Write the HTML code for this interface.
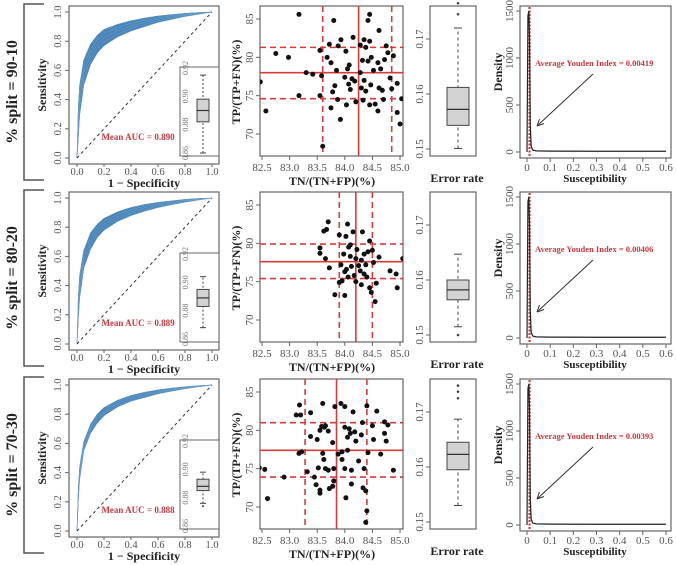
<!DOCTYPE html>
<html><head><meta charset="utf-8">
<style>
html,body{margin:0;padding:0;background:#fff;}
svg{display:block;font-family:"Liberation Serif",serif;}
</style></head>
<body>
<svg id="fig" width="676" height="565" viewBox="0 0 676 565" xmlns="http://www.w3.org/2000/svg"></svg>
<script>
// ---------- DATA ----------
const rowLabels = ["% split = 90-10", "% split = 80-20", "% split = 70-30"];
const meanAUC = ["0.890", "0.889", "0.888"];
const youden = ["0.00419", "0.00406", "0.00393"];
const rocFpr = [0,0.01,0.02,0.05,0.1,0.15,0.2,0.3,0.4,0.5,0.6,0.7,0.8,0.9,1];
const rocLow1 = [0,0.15,0.3,0.5,0.64,0.72,0.77,0.83,0.87,0.9,0.93,0.95,0.97,0.985,1];
const rocHigh1 = [0,0.35,0.5,0.67,0.78,0.84,0.88,0.915,0.94,0.958,0.972,0.982,0.99,0.996,1];
const rocLow2 = [0,0.18,0.32,0.52,0.65,0.73,0.78,0.84,0.88,0.91,0.935,0.955,0.972,0.987,1];
const rocHigh2 = [0,0.33,0.47,0.64,0.76,0.82,0.86,0.905,0.935,0.955,0.97,0.98,0.99,0.996,1];
const rocLow3 = [0,0.22,0.36,0.55,0.67,0.74,0.79,0.85,0.89,0.915,0.94,0.958,0.975,0.988,1];
const rocHigh3 = [0,0.3,0.44,0.61,0.73,0.8,0.845,0.895,0.928,0.95,0.966,0.978,0.988,0.995,1];
const aucBox = [[0.860,0.882,0.890,0.898,0.915],[0.868,0.883,0.889,0.895,0.904],[0.876,0.885,0.888,0.893,0.898]];
const aucOut = [[],[],[0.874]];
const sx1=[83.17,83.8,84.45,84.42,84.62,82.75,82.98,82.47,82.57,83.17,83.3,83.42,83.55,83.58,83.55,83.6,83.72,83.68,83.75,83.85,83.88,83.82,83.78,83.75,83.87,83.92,83.93,84.02,84.05,84.0,84.07,84.1,84.03,84.15,84.13,84.18,84.2,84.28,84.35,84.38,84.32,84.28,84.35,84.3,84.38,84.33,84.45,84.48,84.52,84.47,84.45,84.55,84.6,84.65,84.62,84.6,84.68,84.7,84.75,84.72,84.78,84.82,84.85,84.88,84.95,84.95,85.03,85.0,84.08,84.42];
const sy1=[85.6,84.8,85.6,84.8,83.5,80.5,80,76.8,73,75,78,77.8,80.9,77.6,75,68.4,81.7,80,79.3,78.3,81.5,76.3,75.5,73.4,74.5,71.9,82.3,80.8,78.5,77.4,76.5,75.8,73.8,82.6,77.2,76.9,74.2,81.6,82.3,81.3,79.6,78.0,77.0,76.0,75.6,74.4,82.1,80.0,78.3,76.4,73.8,73.9,79.3,78.5,76.0,73,75.7,74.5,81.5,79.7,80.6,77.3,75.9,80.2,76.6,72.8,74.6,71.3,79.0,79.5];
const sx2=[83.55,83.55,83.62,83.67,83.7,83.65,83.72,83.82,83.9,83.93,83.95,83.98,84.02,84.05,84.07,84.1,84.03,84.06,84.0,84.15,84.12,84.17,84.22,84.25,84.28,84.3,84.32,84.35,84.38,84.42,84.4,84.45,84.5,84.52,84.48,84.55,84.57,84.62,84.82,84.93,84.95,85.05,83.9,84.0,84.2,84.3,84.35,84.1,84.45,84.2];
const sy2=[79.4,78.7,81.6,81.8,82.8,78.0,76.8,73.3,81.1,77.2,75.1,78.6,80.9,82.5,79.5,78.3,76.6,75.6,73.2,81.5,77.0,75.8,79.2,77.1,76.4,74.6,81.5,78.6,77.2,78.9,75.6,74.2,79.1,77.5,73.6,72.4,74.8,78.2,76.4,76.0,74.2,78.0,74.9,76.3,78.0,77.8,76.0,79.8,80.3,75.0];
const sx3=[82.45,82.55,82.6,82.9,83.12,83.18,83.2,83.17,83.22,83.38,83.32,83.38,83.45,83.48,83.52,83.55,83.55,83.5,83.55,83.6,83.58,83.63,83.6,83.62,83.65,83.7,83.72,83.7,83.78,83.78,83.82,83.8,83.8,83.88,83.93,83.95,83.95,84.0,84.0,84.02,84.05,84.08,84.05,84.1,84.12,84.15,84.12,84.18,84.2,84.25,84.3,84.32,84.35,84.33,84.4,84.42,84.38,84.4,84.38,84.5,84.52,84.58,84.65,84.72,84.72,84.75,84.78,84.88,84.0,83.65];
const sy3=[75.1,74.9,71.1,73.9,82.0,83.3,82.0,77.0,77.2,82.3,74.6,79.2,73.9,72.9,75.1,71.8,72.2,78.8,80.0,83.5,80.5,80.4,77.0,76.2,75.0,74.8,72.4,79.9,78.4,72.7,83.1,75.0,73.4,76.9,83.5,77.2,76.2,83.1,75.0,71.2,79.1,80.2,77.4,79.6,74.8,82.4,73.0,79.8,78.6,76.0,79.4,81.0,75.0,72.5,83.2,77.1,72.1,69.5,68.0,80.6,78.8,82.5,76.9,81.1,79.6,78.6,80.7,74.8,80.4,80.6];
const vLines = [[83.6,84.25,84.85],[83.9,84.2,84.5],[83.28,83.85,84.4]];
const hLines = [[81.3,78.0,74.6],[79.9,77.6,75.4],[81.0,77.4,73.9]];
const errBox = [[0.1501,0.1543,0.1572,0.1612,0.1720],[0.1515,0.1564,0.1582,0.1600,0.1647],[0.1530,0.1595,0.1623,0.1645,0.1687]];
const errOut = [[0.1745,0.1765],[0.1500],[0.1725,0.1737,0.1748]];
const densX = [0,0.004,0.008,0.011,0.014,0.018,0.025,0.04,0.1,0.3,0.6];
const densY = [0,1450,1500,1200,300,60,20,12,9,8,8];
const youdenX = 0.011;
const rocTicks = [0,0.2,0.4,0.6,0.8,1.0];
const scatX = [82.5,83.0,83.5,84.0,84.5,85.0];
const scatY = [70,75,80,85];
const errTicks = [0.15,0.16,0.17];
const densXT = [0,0.1,0.2,0.3,0.4,0.5,0.6];
const densYT = [0,500,1000,1500];
const aucTicks = [0.86,0.88,0.90,0.92];

const rocLows=[rocLow1,rocLow2,rocLow3], rocHighs=[rocHigh1,rocHigh2,rocHigh3];
const sxs=[sx1,sx2,sx3], sys=[sy1,sy2,sy3];

// ---------- HELPERS ----------
const svg=document.getElementById('fig');
const NS='http://www.w3.org/2000/svg';
function el(tag,attrs,parent){const e=document.createElementNS(NS,tag);for(const k in attrs)e.setAttribute(k,attrs[k]);(parent||svg).appendChild(e);return e;}
function txt(s,x,y,attrs,parent){const t=el('text',Object.assign({x:x,y:y},attrs),parent);t.textContent=s;return t;}
function lin(d0,d1,r0,r1){return v=>r0+(v-d0)*(r1-r0)/(d1-d0);}
const AX='#666', TK='#555';
function fmt(v,n){return v.toFixed(n);}

for(let r=0;r<3;r++){
  const oy=[0,186,373][r];
  const g=el('g',{});
  
  
  const br=el('path',{d:`M44 ${oy+4} H24 V${oy+180} H44`,stroke:'#555','stroke-width':1.5,fill:'none'},g);
  
  
  const rl=txt(rowLabels[r],0,0,{transform:`translate(17,${oy+92}) rotate(-90)`,'text-anchor':'middle','font-size':16,'font-weight':'bold',fill:'#222'},g);
  
  

  // ROC
  const rg=el('g',{},g);
  
  
  const rx=lin(0,1,77,212), ry=lin(0,1,oy+158,oy+12);
  const lo=rocLows[r], hi=rocHighs[r];
  let pts=rocFpr.map((f,i)=>rx(f)+','+ry(hi[i])).join(' ')+' '+rocFpr.slice().reverse().map((f,i)=>rx(f)+','+ry(lo[rocFpr.length-1-i])).join(' ');
  const band=el('polygon',{points:pts,fill:'#4a86b8',stroke:'#3f7cb0','stroke-width':0.6},rg);
  
  
  for(let k=0;k<=4;k++){
    const w=k/4;
    const p=el('polyline',{points:rocFpr.map((f,i)=>rx(f)+','+ry(lo[i]+(hi[i]-lo[i])*w)).join(' '),fill:'none',stroke:'#6a9ec8','stroke-width':0.5},rg);
    
    
  }
  const diag=el('line',{x1:rx(0),y1:ry(0),x2:rx(1),y2:ry(1),stroke:'#333','stroke-dasharray':'3,3','stroke-width':1},rg);
  
  
  el('rect',{x:69,y:oy+6,width:150,height:158,fill:'none',stroke:AX,'stroke-width':1.2},rg);
  rocTicks.forEach(t=>{
    el('line',{x1:rx(t),x2:rx(t),y1:oy+164,y2:oy+167,stroke:AX},rg);
    txt(fmt(t,1),rx(t),oy+175,{'text-anchor':'middle','font-size':10.5,fill:TK},rg);
    el('line',{x1:65,x2:69,y1:ry(t),y2:ry(t),stroke:AX},rg);
    txt(fmt(t,1),0,0,{transform:`translate(61,${ry(t)}) rotate(-90)`,'text-anchor':'middle','font-size':10.5,fill:TK},rg);
  });
  const rxT=txt('1 − Specificity',144,oy+187,{'text-anchor':'middle','font-size':12,'font-weight':'bold',fill:'#222'},rg);
  
  const ryT=txt('Sensitivity',0,0,{transform:`translate(46,${oy+85}) rotate(-90)`,'text-anchor':'middle','font-size':12,'font-weight':'bold',fill:'#222'},rg);
  
  const auc=txt('Mean AUC = '+meanAUC[r],138,oy+140,{'text-anchor':'middle','font-size':9,'font-weight':'bold',fill:'#c8393f'},rg);
  
  const ig=el('g',{},rg);
  
  
  el('rect',{x:180,y:oy+67,width:39,height:89,fill:'#fff',stroke:AX},ig);
  const iy=lin(0.86,0.92,oy+153,oy+68);
  aucTicks.forEach(t=>{txt(fmt(t,2),0,0,{transform:`translate(188,${iy(t)}) rotate(-90)`,'text-anchor':'middle','font-size':8,fill:'#777'},ig);});
  const b=aucBox[r], cx=203;
  el('line',{x1:cx,x2:cx,y1:iy(b[0]),y2:iy(b[4]),stroke:'#444','stroke-dasharray':'2,2'},ig);
  el('line',{x1:cx-3,x2:cx+3,y1:iy(b[0]),y2:iy(b[0]),stroke:'#444'},ig);
  el('line',{x1:cx-3,x2:cx+3,y1:iy(b[4]),y2:iy(b[4]),stroke:'#444'},ig);
  el('rect',{x:cx-6,y:iy(b[3]),width:12,height:iy(b[1])-iy(b[3]),fill:'#d3d3d3',stroke:'#444'},ig);
  el('line',{x1:cx-6,x2:cx+6,y1:iy(b[2]),y2:iy(b[2]),stroke:'#333','stroke-width':1.2},ig);
  aucOut[r].forEach(v=>el('circle',{cx:cx,cy:iy(v),r:1,fill:'#444'},ig));

  // Scatter
  const sg=el('g',{},g);
  
  
  const px=lin(82.5,85,262,400), py=lin(70,85,oy+134,oy+19);
  el('rect',{x:260,y:oy+6,width:143,height:150,fill:'none',stroke:AX,'stroke-width':1.2},sg);
  const clip='clip'+r;
  const cp=el('clipPath',{id:clip},sg);el('rect',{x:260,y:oy+6,width:143,height:150},cp);
  const ll=el('g',{'clip-path':`url(#${clip})`},sg);
  vLines[r].forEach((v,i)=>{const l=el('line',{x1:px(v),x2:px(v),y1:oy+6,y2:oy+156,stroke:'#d43c3c','stroke-width':1.6,'stroke-dasharray':i==1?'':'6,4'},ll);
    });
  hLines[r].forEach((v,i)=>{const l=el('line',{x1:260,x2:403,y1:py(v),y2:py(v),stroke:'#d43c3c','stroke-width':1.6,'stroke-dasharray':i==1?'':'6,4'},ll);
    });
  sxs[r].forEach((v,i)=>{const c=el('circle',{cx:px(v),cy:py(sys[r][i]),r:2.5,fill:'#111'},ll);
    });
  scatX.forEach(t=>{el('line',{x1:px(t),x2:px(t),y1:oy+156,y2:oy+160,stroke:AX},sg);
    txt(fmt(t,1),px(t),oy+171,{'text-anchor':'middle','font-size':11,fill:TK},sg);});
  scatY.forEach(t=>{el('line',{x1:256,x2:260,y1:py(t),y2:py(t),stroke:AX},sg);
    txt(String(t),0,0,{transform:`translate(253,${py(t)}) rotate(-90)`,'text-anchor':'middle','font-size':11,fill:TK},sg);});
  const sxT=txt('TN/(TN+FP)(%)',332,oy+185,{'text-anchor':'middle','font-size':12,'font-weight':'bold',fill:'#222'},sg);
  
  const syT=txt('TP/(TP+FN)(%)',0,0,{transform:`translate(240,${oy+82}) rotate(-90)`,'text-anchor':'middle','font-size':12,'font-weight':'bold',fill:'#222'},sg);
  

  // Error rate
  const eg=el('g',{},g);
  
  
  const ey=lin(0.15,0.17,oy+149,oy+39);
  el('rect',{x:430,y:oy+6,width:46,height:150,fill:'none',stroke:AX,'stroke-width':1.2},eg);
  errTicks.forEach(t=>{el('line',{x1:426,x2:430,y1:ey(t),y2:ey(t),stroke:AX},eg);
    txt(fmt(t,2),0,0,{transform:`translate(423,${ey(t)}) rotate(-90)`,'text-anchor':'middle','font-size':11,fill:TK},eg);});
  const e=errBox[r], ex=458;
  el('line',{x1:ex,x2:ex,y1:ey(e[0]),y2:ey(e[4]),stroke:'#444','stroke-dasharray':'3,3'},eg);
  el('line',{x1:ex-4,x2:ex+4,y1:ey(e[0]),y2:ey(e[0]),stroke:'#444'},eg);
  el('line',{x1:ex-4,x2:ex+4,y1:ey(e[4]),y2:ey(e[4]),stroke:'#444'},eg);
  el('rect',{x:ex-11,y:ey(e[3]),width:22,height:ey(e[1])-ey(e[3]),fill:'#d3d3d3',stroke:'#444'},eg);
  el('line',{x1:ex-11,x2:ex+11,y1:ey(e[2]),y2:ey(e[2]),stroke:'#333','stroke-width':1.3},eg);
  errOut[r].forEach(v=>el('circle',{cx:ex,cy:ey(v),r:1.3,fill:'#444'},eg));
  const erT=txt('Error rate',457,oy+182,{'text-anchor':'middle','font-size':12,'font-weight':'bold',fill:'#222'},eg);
  

  // Density
  const dg=el('g',{},g);
  
  
  const dx=lin(0,0.6,527,666), dy=lin(0,1500,oy+152,oy+11);
  el('rect',{x:520,y:oy+6,width:151,height:152,fill:'none',stroke:AX,'stroke-width':1.2},dg);
  const yl=el('line',{x1:dx(youdenX),x2:dx(youdenX),y1:oy+7,y2:oy+157,stroke:'#d43c3c','stroke-width':2.2,'stroke-dasharray':'2,1.5'},dg);
  
  const dc=el('polyline',{points:densX.map((v,i)=>dx(v)+','+dy(densY[i])).join(' '),fill:'none',stroke:'#222','stroke-width':1.2},dg);
  
  densXT.forEach(t=>{el('line',{x1:dx(t),x2:dx(t),y1:oy+158,y2:oy+162,stroke:AX},dg);
    txt(t===0?'0':fmt(t,1),dx(t),oy+171,{'text-anchor':'middle','font-size':11,fill:TK},dg);});
  densYT.forEach(t=>{el('line',{x1:516,x2:520,y1:dy(t),y2:dy(t),stroke:AX},dg);
    txt(String(t),0,0,{transform:`translate(513,${dy(t)}) rotate(-90)`,'text-anchor':'middle','font-size':11,fill:TK},dg);});
  const dxT=txt('Susceptibility',595,oy+182,{'text-anchor':'middle','font-size':11,'font-weight':'bold',fill:'#222'},dg);
  
  const dyT=txt('Density',0,0,{transform:`translate(502,${oy+72}) rotate(-90)`,'text-anchor':'middle','font-size':12,'font-weight':'bold',fill:'#222'},dg);
  
  const an=txt('Average Youden Index = '+youden[r],535,oy+66,{'font-size':8.5,'font-weight':'bold',fill:'#c8393f'},dg);
  
  const ar=el('line',{x1:593,y1:oy+74,x2:537,y2:oy+126,stroke:'#333','stroke-width':1},dg);
  
  el('path',{d:`M537 ${oy+126} l7 -2.5 M537 ${oy+126} l2.5 -7`,stroke:'#333','stroke-width':1,fill:'none'},dg);
}
</script>
</body></html>
